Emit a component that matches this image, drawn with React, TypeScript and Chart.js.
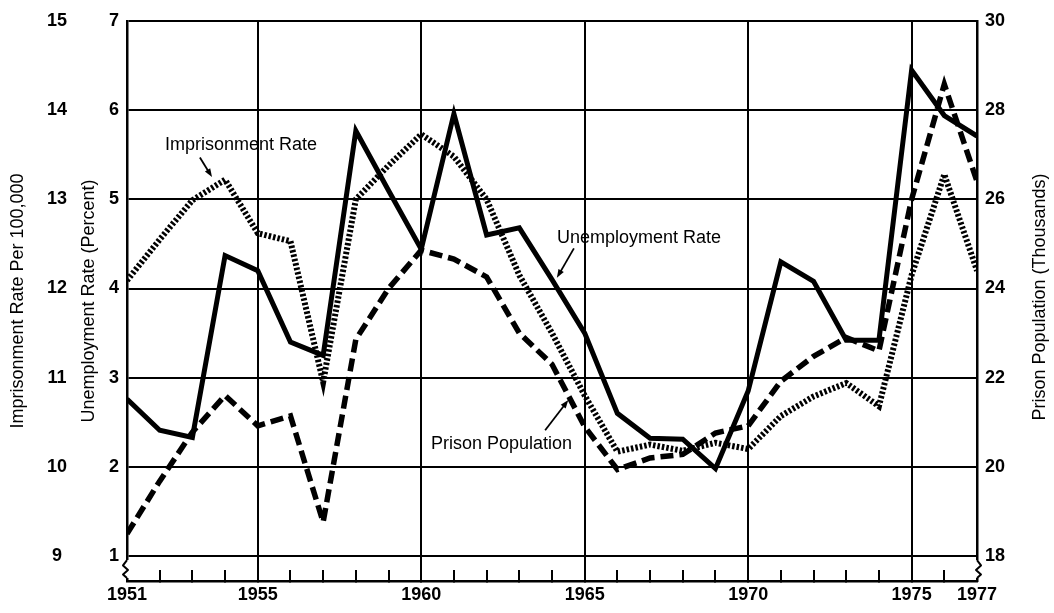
import React, { useEffect, useRef } from "react";
import { Chart, registerables } from "chart.js";

Chart.register(...registerables);

// ---- data ----
const years = [
  1951, 1952, 1953, 1954, 1955, 1956, 1957, 1958, 1959, 1960, 1961, 1962, 1963, 1964,
  1965, 1966, 1967, 1968, 1969, 1970, 1971, 1972, 1973, 1974, 1975, 1976, 1977,
];
// Unemployment rate (percent)
const unemploymentRate = [
  2.76, 2.41, 2.33, 4.37, 4.2, 3.4, 3.25, 5.77, 5.1, 4.44, 5.96, 4.6, 4.68, 4.1,
  3.5, 2.6, 2.32, 2.31, 1.98, 2.85, 4.3, 4.08, 3.42, 3.42, 6.45, 5.94, 5.71,
];
// Imprisonment rate per 100,000
const imprisonmentRate = [
  12.09, 12.55, 12.99, 13.22, 12.62, 12.53, 10.95, 13.0, 13.38, 13.73, 13.48, 13.0, 12.15, 11.5,
  10.8, 10.17, 10.25, 10.18, 10.27, 10.2, 10.57, 10.79, 10.94, 10.68, 12.15, 13.28, 12.2,
];
// Prison population (thousands)
const prisonPopulation = [
  18.5, 19.68, 20.78, 21.6, 20.92, 21.14, 18.76, 22.86, 24.0, 24.86, 24.66, 24.26, 23.0, 22.3,
  20.9, 19.94, 20.2, 20.28, 20.76, 20.92, 21.92, 22.48, 22.9, 22.6, 26.0, 28.58, 26.4,
];
const yearLabels = [1951, 1955, 1960, 1965, 1970, 1975, 1977];
const unemploymentTicks = [1, 2, 3, 4, 5, 6, 7];
const imprisonmentTicks = [9, 10, 11, 12, 13, 14, 15];
const prisonTicks = [18, 20, 22, 24, 26, 28, 30];

const FONT = '"Liberation Sans", Arial, Helvetica, sans-serif';

// annotation labels, in data coordinates (year, unemployment-axis value)
const annotations = [
  { text: "Imprisonment Rate", x: 1952.16, y: 5.61, from: [1953.23, 5.47], to: [1953.6, 5.25] },
  { text: "Unemployment Rate", x: 1964.15, y: 4.57, from: [1964.67, 4.45], to: [1964.15, 4.12] },
  { text: "Prison Population", x: 1960.3, y: 2.26, from: [1963.79, 2.41], to: [1964.5, 2.75] },
];

const decorPlugin = {
  id: "decor",
  afterDraw(chart: any) {
    const { ctx, chartArea, scales } = chart;
    const xs = scales.x;
    const ys = scales.y;
    ctx.save();

    // axis breaks
    const yOne = ys.getPixelForValue(1);
    const drawBreak = (x: number, dir: number) => {
      const y0 = yOne + 4;
      const y1 = chartArea.bottom - 3;
      ctx.fillStyle = "#fff";
      ctx.fillRect(x - 3, y0, 6, y1 - y0);
      ctx.strokeStyle = "#000";
      ctx.lineWidth = 2;
      ctx.lineJoin = "round";
      ctx.beginPath();
      const h = y1 - y0;
      ctx.moveTo(x, y0);
      ctx.lineTo(x + dir * 4, y0 + h * 0.3);
      ctx.lineTo(x - dir * 1, y0 + h * 0.55);
      ctx.lineTo(x + dir * 4, y0 + h * 0.8);
      ctx.lineTo(x, y1);
      ctx.stroke();
    };
    drawBreak(chartArea.left, -1);
    drawBreak(chartArea.right, 1);

    // annotation texts and arrows
    ctx.fillStyle = "#000";
    ctx.strokeStyle = "#000";
    ctx.font = `18px ${FONT}`;
    ctx.textAlign = "left";
    ctx.textBaseline = "middle";
    for (const a of annotations) {
      ctx.fillText(a.text, xs.getPixelForValue(a.x), ys.getPixelForValue(a.y));
      const fx = xs.getPixelForValue(a.from[0]);
      const fy = ys.getPixelForValue(a.from[1]);
      const tx = xs.getPixelForValue(a.to[0]);
      const ty = ys.getPixelForValue(a.to[1]);
      const ang = Math.atan2(ty - fy, tx - fx);
      const head = 9;
      ctx.lineWidth = 1.8;
      ctx.beginPath();
      ctx.moveTo(fx, fy);
      ctx.lineTo(tx - Math.cos(ang) * head * 0.8, ty - Math.sin(ang) * head * 0.8);
      ctx.stroke();
      ctx.beginPath();
      ctx.moveTo(tx, ty);
      ctx.lineTo(tx - Math.cos(ang - 0.35) * head, ty - Math.sin(ang - 0.35) * head);
      ctx.lineTo(tx - Math.cos(ang + 0.35) * head, ty - Math.sin(ang + 0.35) * head);
      ctx.closePath();
      ctx.fill();
    }

    // right axis title (reads bottom to top)
    ctx.save();
    ctx.translate(chart.width - 14, (chartArea.top + chartArea.bottom) / 2 - 4);
    ctx.rotate(-Math.PI / 2);
    ctx.textAlign = "center";
    ctx.textBaseline = "middle";
    ctx.font = `18px ${FONT}`;
    ctx.fillText("Prison Population (Thousands)", 0, 0);
    ctx.restore();

    ctx.restore();
  },
};

export default function App() {
  const canvasRef = useRef<HTMLCanvasElement | null>(null);

  useEffect(() => {
    if (!canvasRef.current) return;
    const transparent = "rgba(0,0,0,0)";
    const tickFont = { family: FONT, size: 18, weight: "bold" as const };
    const titleFont = { family: FONT, size: 18 };

    const chart = new Chart(canvasRef.current, {
      type: "line",
      data: {
        labels: years,
        datasets: [
          {
            label: "Unemployment Rate",
            data: years.map((yr, i) => ({ x: yr, y: unemploymentRate[i] })),
            yAxisID: "y",
            borderColor: "#000",
            borderWidth: 5,
            borderJoinStyle: "miter",
            pointRadius: 0,
            tension: 0,
          },
          {
            label: "Imprisonment Rate",
            data: years.map((yr, i) => ({ x: yr, y: imprisonmentRate[i] })),
            yAxisID: "yImp",
            borderColor: "#000",
            borderWidth: 6,
            borderDash: [2.5, 2],
            borderCapStyle: "butt",
            pointRadius: 0,
            tension: 0,
          },
          {
            label: "Prison Population",
            data: years.map((yr, i) => ({ x: yr, y: prisonPopulation[i] })),
            yAxisID: "yPris",
            borderColor: "#000",
            borderWidth: 5.5,
            borderDash: [13, 6],
            borderCapStyle: "butt",
            borderJoinStyle: "miter",
            pointRadius: 0,
            tension: 0,
          },
        ],
      },
      options: {
        animation: false,
        responsive: false,
        devicePixelRatio: 1,
        layout: { padding: { top: 21, right: 0, bottom: 0, left: 0 } },
        plugins: {
          legend: { display: false },
          tooltip: { enabled: false },
        },
        scales: {
          x: {
            type: "linear",
            position: "bottom",
            min: 1951,
            max: 1977,
            afterBuildTicks: (scale: any) => {
              scale.ticks = years.map((v) => ({ value: v }));
            },
            afterFit: (scale: any) => {
              scale.height = 32;
            },
            ticks: {
              autoSkip: false,
              maxRotation: 0,
              minRotation: 0,
              padding: 14,
              color: "#000",
              font: tickFont,
              callback: (value: any) => (yearLabels.includes(Number(value)) ? String(value) : ""),
            },
            grid: {
              display: true,
              drawTicks: true,
              tickLength: -11,
              lineWidth: 2,
              tickWidth: 2,
              color: (c: any) => (c.tick && c.tick.value % 5 === 0 ? "#000" : transparent),
              tickColor: (c: any) =>
                c.tick && (c.tick.value === 1951 || c.tick.value === 1977) ? transparent : "#000",
            },
            border: { display: true, color: "#000", width: 2.5 },
          },
          y: {
            type: "linear",
            position: "left",
            weight: 0,
            min: 0.72,
            max: 7,
            afterBuildTicks: (scale: any) => {
              scale.ticks = unemploymentTicks.map((v) => ({ value: v }));
            },
            afterFit: (scale: any) => {
              scale.width = 55;
            },
            ticks: { color: "#000", font: tickFont, padding: 8 },
            grid: { color: "#000", lineWidth: 2, drawTicks: false },
            border: { display: true, color: "#000", width: 2.5 },
            title: {
              display: true,
              text: "Unemployment Rate (Percent)",
              color: "#000",
              font: titleFont,
              padding: { top: 6, bottom: 0 },
            },
          },
          yImp: {
            type: "linear",
            position: "left",
            weight: 10,
            min: 8.72,
            max: 15,
            afterBuildTicks: (scale: any) => {
              scale.ticks = imprisonmentTicks.map((v) => ({ value: v }));
            },
            afterFit: (scale: any) => {
              scale.width = 72;
            },
            ticks: { color: "#000", font: tickFont, padding: 5, crossAlign: "center" },
            grid: { drawOnChartArea: false, drawTicks: false },
            border: { display: false },
            title: {
              display: true,
              text: "Imprisonment Rate Per 100,000",
              color: "#000",
              font: titleFont,
              padding: { top: 7, bottom: 0 },
            },
          },
          yPris: {
            type: "linear",
            position: "right",
            min: 17.44,
            max: 30,
            afterBuildTicks: (scale: any) => {
              scale.ticks = prisonTicks.map((v) => ({ value: v }));
            },
            afterFit: (scale: any) => {
              scale.width = 77;
            },
            ticks: { color: "#000", font: tickFont, padding: 8 },
            grid: { drawOnChartArea: false, drawTicks: false },
            border: { display: true, color: "#000", width: 2.5 },
          },
        },
      },
      plugins: [decorPlugin],
    } as any);

    return () => chart.destroy();
  }, []);

  return (
    <div style={{ position: "absolute", left: 0, top: 0, width: 1054, height: 613, background: "#fff" }}>
      <canvas ref={canvasRef} width={1054} height={613} />
    </div>
  );
}
